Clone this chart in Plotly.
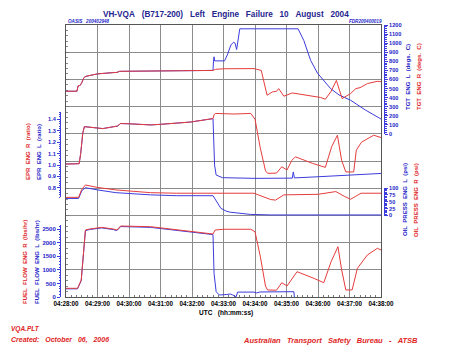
import plotly.graph_objects as go

DAY = "2004-08-10 "

# ---------------- data ----------------
tgt_l_time = ["04:28:00", "04:28:21", "04:28:23", "04:28:27", "04:28:30", "04:28:34", "04:28:38", "04:29:00",
              "04:29:30", "04:29:37", "04:29:42", "04:30:30", "04:31:30", "04:32:40", "04:32:41", "04:32:42",
              "04:32:43", "04:33:02", "04:33:08", "04:33:14", "04:33:19", "04:33:22", "04:33:25", "04:33:31",
              "04:35:22", "04:35:33", "04:35:46", "04:35:59", "04:36:24", "04:36:40", "04:37:02", "04:37:30",
              "04:38:00"]
tgt_l_val = [471, 471, 530, 535, 565, 620, 635, 662, 676, 678, 690, 692, 696, 700, 803, 850,
             805, 805, 880, 980, 1010, 1000, 930, 1158, 1158, 1029, 810, 670, 500, 430, 372, 265, 165]

tgt_r_time = ["04:28:00", "04:28:21", "04:28:23", "04:28:27", "04:28:30", "04:28:34", "04:28:38", "04:29:00",
              "04:29:30", "04:29:37", "04:29:42", "04:30:30", "04:31:30", "04:32:40", "04:32:45", "04:33:00",
              "04:33:58", "04:34:12", "04:34:18", "04:34:23", "04:34:33", "04:34:41", "04:34:45", "04:34:48",
              "04:34:55", "04:35:11", "04:35:40", "04:36:05", "04:36:14", "04:36:25", "04:36:35", "04:36:46",
              "04:37:02", "04:37:12", "04:37:20", "04:37:34", "04:37:53", "04:38:00"]
tgt_r_val = [471, 471, 530, 535, 565, 620, 635, 662, 676, 678, 690, 692, 696, 700, 712, 718,
             720, 700, 550, 427, 463, 470, 500, 470, 416, 452, 425, 402, 383, 470, 590, 390,
             445, 500, 510, 555, 580, 575]

epr_l_time = ["04:28:00", "04:28:25", "04:28:28", "04:28:32", "04:28:35", "04:28:45", "04:29:00", "04:29:10",
              "04:29:38", "04:29:44", "04:30:00", "04:30:41", "04:31:00", "04:31:57", "04:32:40", "04:32:41",
              "04:32:43", "04:32:46", "04:32:58", "04:34:00", "04:35:11", "04:35:13", "04:35:15", "04:36:00",
              "04:37:00", "04:38:00"]
epr_l_val = [1.009, 1.012, 1.10, 1.28, 1.335, 1.33, 1.32, 1.318, 1.34, 1.362, 1.36, 1.35, 1.355, 1.375,
             1.405, 1.30, 1.0, 0.913, 0.89, 0.884, 0.886, 0.94, 0.888, 0.898, 0.912, 0.927]

epr_r_time = ["04:28:00", "04:28:25", "04:28:28", "04:28:32", "04:28:35", "04:28:45", "04:29:00", "04:29:10",
              "04:29:38", "04:29:44", "04:30:00", "04:30:41", "04:31:00", "04:31:57", "04:32:40", "04:32:42",
              "04:32:45", "04:33:20", "04:33:52", "04:34:00", "04:34:10", "04:34:20", "04:34:24", "04:34:41",
              "04:34:51", "04:35:01", "04:35:10", "04:35:17", "04:35:50", "04:36:11", "04:36:14", "04:36:26",
              "04:36:37", "04:36:45", "04:36:53", "04:37:08", "04:37:13", "04:37:23", "04:37:34", "04:37:46",
              "04:38:00"]
epr_r_val = [1.009, 1.012, 1.10, 1.28, 1.335, 1.33, 1.32, 1.318, 1.34, 1.362, 1.36, 1.35, 1.355, 1.375,
             1.405, 1.44, 1.45, 1.445, 1.45, 1.40, 1.15, 0.95, 0.928, 0.93, 0.985, 0.957, 1.04, 1.072,
             1.014, 0.98, 0.98, 1.16, 1.26, 1.04, 0.94, 0.94, 1.13, 1.20, 1.232, 1.26, 1.24]

oil_l_time = ["04:28:00", "04:28:24", "04:28:30", "04:28:37", "04:29:00", "04:29:35", "04:30:41", "04:31:30",
              "04:32:40", "04:32:45", "04:32:50", "04:32:55", "04:33:05", "04:33:13", "04:33:51", "04:34:30",
              "04:38:00"]
oil_l_val = [62, 62, 90, 101, 93, 83, 75, 72, 72, 56, 38, 26, 16, 12, 4, 2, 2]

oil_r_time = ["04:28:00", "04:28:24", "04:28:30", "04:28:37", "04:29:00", "04:29:35", "04:30:41", "04:31:30",
              "04:33:58", "04:34:15", "04:34:30", "04:34:39", "04:34:48", "04:34:55", "04:36:00", "04:36:20",
              "04:36:34", "04:36:50", "04:37:02", "04:37:12", "04:37:22", "04:38:00"]
oil_r_val = [66, 66, 95, 111, 102, 93, 83, 81, 81, 70, 58, 56, 68, 75, 77, 84, 87, 70, 59, 70, 81, 81]

fuel_l_time = ["04:28:00", "04:28:22", "04:28:29", "04:28:33", "04:28:37", "04:28:45", "04:28:59", "04:29:08",
               "04:29:30", "04:29:37", "04:29:44", "04:30:41", "04:32:40", "04:32:41", "04:32:42", "04:32:46",
               "04:32:52", "04:33:05", "04:33:13", "04:33:17", "04:33:24", "04:33:27", "04:33:58", "04:34:03",
               "04:34:10", "04:35:14", "04:35:15"]
fuel_l_val = [300, 300, 600, 1550, 2440, 2480, 2505, 2540, 2480, 2440, 2590, 2560, 2295, 1500, 870, 195,
              74, 90, 110, 80, 10, 180, 180, 150, 185, 195, 0]

fuel_r_time = ["04:28:00", "04:28:22", "04:28:29", "04:28:33", "04:28:37", "04:28:45", "04:28:59", "04:29:08",
               "04:29:30", "04:29:37", "04:29:44", "04:30:41", "04:32:40", "04:32:44", "04:33:00", "04:33:52",
               "04:34:00", "04:34:10", "04:34:20", "04:34:24", "04:34:41", "04:34:51", "04:35:01", "04:35:20",
               "04:35:52", "04:36:11", "04:36:25", "04:36:38", "04:36:45", "04:36:53", "04:37:05", "04:37:15",
               "04:37:34", "04:37:53", "04:38:00"]
fuel_r_val = [320, 320, 625, 1600, 2463, 2500, 2525, 2560, 2500, 2463, 2610, 2585, 2316, 2463, 2490, 2490,
              2400, 1500, 400, 257, 250, 526, 404, 930, 687, 526, 1300, 1850, 1000, 257, 260, 1055,
              1544, 1790, 1728]

x_start, x_end = "04:28:00", "04:38:00"

# ---------------- styling / layout helpers ----------------
OFF = 8                      # default <body> margin of the written page
W, H = 450 - OFF, 346 - OFF  # figure size so that it fits the 450x346 window
ML, MR, MT, MB = 52, 66, 17, 49
PW, PH = W - ML - MR, H - MT - MB
BLUE = "#3c3cdc"
RED = "#e63c3c"
BLUE_T = "#2323c8"
RED_T = "#e02424"
NAVY = "#24248f"
GRID = "#8c8c8c"
FONT = "Liberation Sans, Arial, sans-serif"


def fx(px):  # window pixel x -> paper fraction
    return (px - OFF - ML) / PW


def fy(py):  # window pixel y -> paper fraction
    return (MT + PH - (py - OFF)) / PH


def t(lst):
    return [DAY + s for s in lst]


fig = go.Figure()
# empty traces so that the frame/grid axis and the oil-pressure scale are drawn
fig.add_trace(go.Scatter(x=[], y=[], yaxis="y", mode="lines", hoverinfo="skip"))
fig.add_trace(go.Scatter(x=[], y=[], yaxis="y4", mode="lines", hoverinfo="skip"))

fig.add_trace(go.Scatter(x=t(tgt_l_time), y=tgt_l_val, yaxis="y2", mode="lines",
                         line=dict(color=BLUE, width=1), name="TGT ENG L"))
fig.add_trace(go.Scatter(x=t(tgt_r_time), y=tgt_r_val, yaxis="y2", mode="lines",
                         line=dict(color=RED, width=1), name="TGT ENG R"))
fig.add_trace(go.Scatter(x=t(epr_l_time), y=epr_l_val, yaxis="y3", mode="lines",
                         line=dict(color=BLUE, width=1), name="EPR ENG L"))
fig.add_trace(go.Scatter(x=t(epr_r_time), y=epr_r_val, yaxis="y3", mode="lines",
                         line=dict(color=RED, width=1), name="EPR ENG R"))
fig.add_trace(go.Scatter(x=t(oil_l_time), y=oil_l_val, yaxis="y6", mode="lines",
                         line=dict(color=BLUE, width=1), name="OIL PRESS ENG L"))
fig.add_trace(go.Scatter(x=t(oil_r_time), y=oil_r_val, yaxis="y6", mode="lines",
                         line=dict(color=RED, width=1), name="OIL PRESS ENG R"))
fig.add_trace(go.Scatter(x=t(fuel_l_time), y=fuel_l_val, yaxis="y5", mode="lines",
                         line=dict(color=BLUE, width=1), name="FUEL FLOW ENG L"))
fig.add_trace(go.Scatter(x=t(fuel_r_time), y=fuel_r_val, yaxis="y5", mode="lines",
                         line=dict(color=RED, width=1), name="FUEL FLOW ENG R"))


def side_axis(domain, rng, side, dtick, tick0, minor_dtick, size=5.6):
    return dict(domain=domain, range=rng, anchor="free", position=0 if side == "left" else 1,
                side=side, showgrid=False, zeroline=False, showline=True, linecolor=BLUE, linewidth=1,
                ticks="outside", ticklen=3, tickcolor=BLUE, tickwidth=1, tickmode="linear",
                tick0=tick0, dtick=dtick,
                minor=dict(ticks="outside", ticklen=1.5, tickcolor=BLUE, dtick=minor_dtick, tick0=tick0),
                tickfont=dict(family=FONT, size=size, color=BLUE_T, weight="bold"), ticklabelstandoff=0)


# EPR pixel scale: 0.8 at y=188, 0.1 per 11.47 px (window pixels)
def epr_py(v):
    return 188 - (v - 0.8) * 114.7


# Oil pressure: 0 at y=215.5, 100 at y=188
def oil_py(v):
    return 215.5 - v * 0.275


fig.update_layout(
    width=W, height=H, margin=dict(l=ML, r=MR, t=MT, b=MB),
    paper_bgcolor="white", plot_bgcolor="rgba(0,0,0,0)", showlegend=False,
    xaxis=dict(domain=[fx(66), fx(381)], type="date", range=[DAY + x_start, DAY + x_end],
               tickmode="linear", tick0=DAY + x_start, dtick=60000, tickformat="%H:%M:%S",
               showgrid=True, gridcolor=GRID, gridwidth=1, zeroline=False,
               showline=True, linecolor="#555555", linewidth=1, mirror=True,
               ticks="inside", ticklen=3, tickcolor="#555555",
               minor=dict(ticks="inside", ticklen=2, tickcolor="#777777", dtick=10000),
               tickfont=dict(family=FONT, size=6.3, color="black", weight="bold"), anchor="y"),
    yaxis=dict(domain=[0, 1], range=[0, 10], tickmode="linear", tick0=0, dtick=1, showgrid=True,
               gridcolor=GRID, gridwidth=1, zeroline=False, showticklabels=False, showline=True,
               linecolor="#555555", linewidth=1, mirror=True, ticks="inside", ticklen=3,
               tickcolor="#777777",
               minor=dict(ticks="inside", ticklen=2, tickcolor="#888888", dtick=0.2)),
    yaxis2=side_axis([fy(134), fy(25)], [0, 1200], "right", 100, 0, 20),
    yaxis3=side_axis([fy(epr_py(0.72)), fy(epr_py(1.46))], [0.72, 1.46], "left", 0.1, 0.8, 0.02),
    yaxis4=side_axis([fy(oil_py(0)), fy(oil_py(100))], [0, 100], "right", 25, 0, 5),
    yaxis5=side_axis([fy(297), fy(297 - 2650 * 0.0272)], [0, 2650], "left", 500, 0, 100, size=6),
    yaxis6=dict(domain=[fy(oil_py(-10)), fy(oil_py(120))], range=[-10, 120], anchor="free",
                position=1, visible=False, showgrid=False, zeroline=False),
)
fig.layout.yaxis3.tickformat = ".1f"


def ann(text, px, py, size, color, xanchor="center", angle=0, italic=False, bold=True):
    fig.add_annotation(text=text, x=fx(px), y=fy(py), xref="paper", yref="paper", showarrow=False,
                       xanchor=xanchor, yanchor="middle", textangle=angle,
                       font=dict(family=FONT, size=size, color=color, weight="bold" if bold else "normal",
                                 style="italic" if italic else "normal"))


sp = "\u00a0\u00a0\u00a0"
ann(sp.join(["VH-VQA", "(B717-200)", "Left", "Engine", "Failure", "10", "August", "2004"]),
    226, 15, 8.2, NAVY)
ann("OASIS\u00a0\u00a0\u00a0200402948", 66, 21.5, 4.6, BLUE_T, xanchor="left", italic=True)
ann("FDR200400019", 384, 21.5, 4.6, BLUE_T, xanchor="right", italic=True)

s2 = "\u00a0\u00a0"
ann(s2.join(["TGT", "ENG", "L", "(degs.", "C)"]), 408, 77, 6, BLUE_T, angle=-90)
ann(s2.join(["TGT", "ENG", "R", "(degs.", "C)"]), 419, 77, 6, RED_T, angle=-90)
ann(s2.join(["EPR", "ENG", "R", "(ratio)"]), 28, 152, 6, RED_T, angle=-90)
ann(s2.join(["EPR", "ENG", "L", "(ratio)"]), 39, 152, 6, BLUE_T, angle=-90)
ann(s2.join(["OIL", "PRESS", "ENG", "L", "(psi)"]), 405, 200, 6, BLUE_T, angle=-90)
ann(s2.join(["OIL", "PRESS", "ENG", "R", "(psi)"]), 416, 200, 6, RED_T, angle=-90)
ann(s2.join(["FUEL", "FLOW", "ENG", "R", "(lbs/hr)"]), 25, 262, 6, RED_T, angle=-90)
ann(s2.join(["FUEL", "FLOW", "ENG", "L", "(lbs/hr)"]), 37, 262, 6, BLUE_T, angle=-90)

ann("UTC\u00a0\u00a0\u00a0(hh:mm:ss)", 226, 313, 6.5, "black")
ann("VQA.PLT", 9, 329, 6.5, RED_T, xanchor="left", italic=True)
ann(sp.join(["Created:", "October", "06,", "2006"]), 9, 340, 7.0, RED_T, xanchor="left", italic=True)
ann(sp.join(["Australian", "Transport", "Safety", "Bureau", "-", "ATSB"]), 420, 340, 7.5, RED_T,
    xanchor="right", italic=True)

fig.write_html("out.html")
